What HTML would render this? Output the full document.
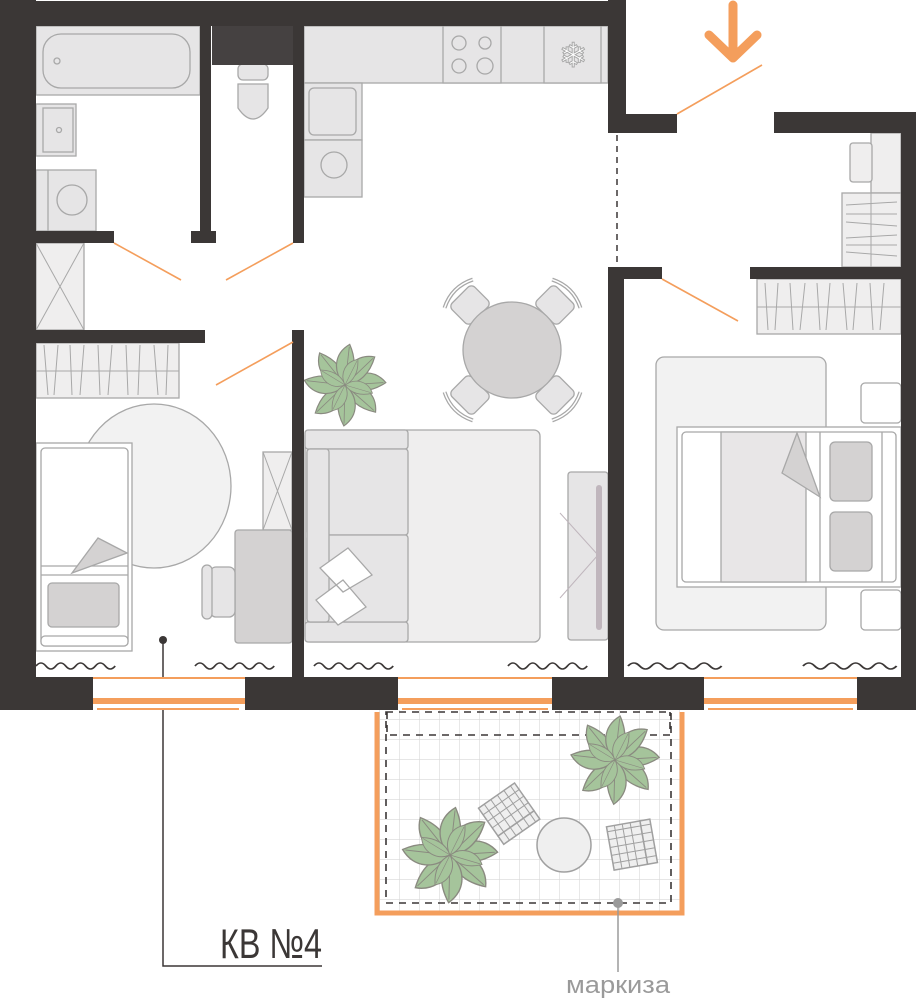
<!DOCTYPE html>
<html><head><meta charset="utf-8"><style>
html,body{margin:0;padding:0;background:#fff;}
svg{display:block}
</style></head><body>
<svg width="916" height="1001" viewBox="0 0 916 1001" xmlns="http://www.w3.org/2000/svg">
<defs>
<pattern id="grid" x="0" y="0" width="20" height="20" patternUnits="userSpaceOnUse">
<rect width="20" height="20" fill="#fff"/>
<path d="M20 0V20M0 20H20" stroke="#d8d8d8" stroke-width="1.2"/>
</pattern>
<g id="leaf"><path d="M0 0 C8 -12 24 -14 34 -2 C22 6 10 7 0 0Z" fill="#a5c49b" stroke="#8a8a80" stroke-width="1"/><path d="M0 0 L32 -2" stroke="#8a8a80" stroke-width=".7"/></g>
<g id="plant">
<use href="#leaf" transform="rotate(0)"/><use href="#leaf" transform="rotate(45)"/><use href="#leaf" transform="rotate(95)"/><use href="#leaf" transform="rotate(140)"/><use href="#leaf" transform="rotate(190)"/><use href="#leaf" transform="rotate(235)"/><use href="#leaf" transform="rotate(280)"/><use href="#leaf" transform="rotate(320)"/>
<use href="#leaf" transform="rotate(20) scale(.7)"/><use href="#leaf" transform="rotate(120) scale(.7)"/><use href="#leaf" transform="rotate(215) scale(.7)"/><use href="#leaf" transform="rotate(300) scale(.7)"/>
</g>
<g id="wave"><path d="M0 0 q4.5 -6 9 0 t9 0 t9 0 t9 0 t9 0 t9 0 t9 0 t9 0" fill="none" stroke="#3b3736" stroke-width="1.6"/></g>
<g id="chair"><rect x="-16" y="-14" width="32" height="28" rx="5" fill="#e6e5e6" stroke="#a8a8a8" stroke-width="1.3"/><path d="M-20 -16 Q0 -26 20 -16" fill="none" stroke="#a8a8a8" stroke-width="4"/><path d="M-20 -16 Q0 -26 20 -16" fill="none" stroke="#fff" stroke-width="1.5"/></g>
<g id="bchair"><rect x="-22" y="-20" width="44" height="34" fill="#efefef" stroke="#a0a0a0" stroke-width="1.5"/><path d="M-15 -20V14M-7 -20V14M1 -20V14M9 -20V14M17 -20V14M-22 -12H22M-22 -4H22M-22 4H22" stroke="#a0a0a0" stroke-width="1"/><rect x="-22" y="14" width="44" height="10" fill="#efefef" stroke="#a0a0a0" stroke-width="1.5"/><path d="M-15 14V24M-7 14V24M1 14V24M9 14V24M17 14V24" stroke="#a0a0a0" stroke-width="1"/></g>
</defs>

<!-- balcony -->
<rect x="377" y="710" width="305" height="203" fill="url(#grid)"/>
<path d="M377 712V913H682V712" fill="none" stroke="#f49e5c" stroke-width="5"/>
<rect x="386" y="712" width="285" height="191" fill="none" stroke="#3b3736" stroke-width="1.6" stroke-dasharray="7 6"/>
<path d="M387 712V735H670V712" fill="none" stroke="#3b3736" stroke-width="1.6" stroke-dasharray="7 6"/>
<use href="#plant" transform="translate(615,760) scale(1.3)"/>
<use href="#plant" transform="translate(450,855) scale(1.4)"/>
<use href="#bchair" transform="translate(508,812) rotate(-35)"/>
<use href="#bchair" transform="translate(630,845) rotate(-100)"/>
<circle cx="564" cy="845" r="27" fill="#efefef" stroke="#a0a0a0" stroke-width="1.5"/>
<circle cx="618" cy="903" r="5" fill="#9a9a9a"/>
<path d="M618 903V972" stroke="#9a9a9a" stroke-width="1.5"/>

<!-- bathroom -->
<g fill="#e6e5e6" stroke="#a8a8a8" stroke-width="1.3">
<rect x="36" y="26" width="164" height="69"/>
<rect x="43" y="34" width="147" height="54" rx="18"/>
<circle cx="57" cy="61" r="3"/>
<rect x="36" y="104" width="40" height="52"/>
<rect x="43" y="108" width="30" height="44"/>
<circle cx="59" cy="130" r="2.5"/>
<rect x="36" y="170" width="60" height="61"/>
<path d="M48 170V231"/>
<circle cx="72" cy="200" r="15"/>
<rect x="238" y="64" width="30" height="16" rx="5"/>
<path d="M238 84H268V108Q253 130 238 108Z"/>
<rect x="36" y="243" width="48" height="87" fill="#efeeee"/>
<path d="M36 243L84 330M84 243L36 330" fill="none" stroke-width="1"/>
</g>
<rect x="212" y="26" width="81" height="39" fill="#454141"/>

<!-- kitchen -->
<g fill="#e6e5e6" stroke="#a8a8a8" stroke-width="1.3">
<rect x="304" y="26" width="304" height="57"/>
<rect x="443" y="26" width="58" height="57"/>
<rect x="544" y="26" width="57" height="57"/>
<circle cx="459" cy="43" r="7"/><circle cx="485" cy="43" r="6"/><circle cx="459" cy="66" r="7"/><circle cx="485" cy="66" r="8"/>
<rect x="304" y="83" width="58" height="57"/>
<rect x="309" y="88" width="47" height="47" rx="5"/>
<rect x="304" y="140" width="58" height="57"/>
<circle cx="334" cy="165" r="13"/>
</g>
<text x="573" y="67" font-size="34" fill="#fff" stroke="#a8a8a8" stroke-width="1" text-anchor="middle" font-family="DejaVu Sans, sans-serif">❄</text>

<!-- dining -->
<use href="#chair" transform="translate(470,305) rotate(-45)"/>
<use href="#chair" transform="translate(555,305) rotate(45)"/>
<use href="#chair" transform="translate(470,395) rotate(-135)"/>
<use href="#chair" transform="translate(555,395) rotate(135)"/>
<ellipse cx="512" cy="350" rx="49" ry="48" fill="#d4d2d2" stroke="#a8a8a8" stroke-width="1.3"/>

<!-- sofa -->
<g fill="#e6e5e6" stroke="#a8a8a8" stroke-width="1.3">
<rect x="305" y="430" width="235" height="212" rx="6" fill="#efeeee"/>
<rect x="305" y="430" width="103" height="19" rx="3"/>
<rect x="305" y="622" width="103" height="20" rx="3"/>
<rect x="307" y="449" width="101" height="86" rx="3"/>
<rect x="307" y="535" width="101" height="87" rx="3"/>
<rect x="307" y="449" width="22" height="173" rx="3"/>
<rect x="568" y="472" width="40" height="168" rx="3"/>
</g>
<path d="M320 568L348 548L372 575L343 592Z M316 600L343 580L366 607L338 625Z" fill="#fff" stroke="#a8a8a8" stroke-width="1.3"/>
<rect x="596" y="485" width="6" height="145" rx="3" fill="#c0b6bd"/>
<path d="M560 513L598 555L560 598" fill="none" stroke="#c0b6bd" stroke-width="1"/>
<use href="#plant" transform="translate(345,385) scale(1.2)"/>

<!-- child room -->
<g stroke="#a8a8a8" stroke-width="1.3">
<rect x="36" y="343" width="143" height="55" fill="#efeeee"/>
<path d="M36 371H179M44 345L48 395M58 345L54 395M70 345L72 395M84 345L80 395M98 345L100 395M112 345L108 395M126 345L128 395M140 345L138 395M154 345L158 395M168 345L166 395" fill="none" stroke-width="1"/>
<ellipse cx="154" cy="486" rx="77" ry="82" fill="#f2f2f2"/>
<rect x="36" y="443" width="96" height="208" fill="#fff"/>
<rect x="41" y="448" width="87" height="198" rx="4" fill="#fff"/>
<path d="M41 566H128M41 575H128" fill="none"/>
<path d="M72 573L98 538L127 553Z" fill="#d4d2d2"/>
<rect x="48" y="583" width="71" height="44" rx="4" fill="#d4d2d2"/>
<rect x="41" y="636" width="87" height="10" rx="4" fill="#fff"/>
<rect x="263" y="452" width="29" height="78" fill="#efeeee"/>
<path d="M263 452L292 530M292 452L263 530" fill="none" stroke-width="1"/>
<rect x="235" y="530" width="57" height="113" rx="3" fill="#d4d2d2"/>
<rect x="210" y="567" width="25" height="50" rx="6" fill="#e6e5e6"/>
<rect x="202" y="565" width="10" height="54" rx="5" fill="#e6e5e6"/>
</g>
<circle cx="163" cy="640" r="4" fill="#3b3736"/>
<path d="M163 640V966H322" fill="none" stroke="#3b3736" stroke-width="1.5"/>

<!-- bedroom -->
<g stroke="#a8a8a8" stroke-width="1.3">
<rect x="871" y="133" width="30" height="60" fill="#efeeee"/>
<rect x="850" y="143" width="22" height="39" rx="3" fill="#efeeee"/>
<rect x="842" y="193" width="59" height="74" fill="#efeeee"/>
<path d="M871 193V267M846 205L897 202M846 214L897 214M846 222L897 226M846 238L897 235M846 245L897 245M846 252L897 256" fill="none" stroke-width="1"/>
<rect x="757" y="279" width="144" height="55" fill="#efeeee"/>
<path d="M757 307H901M765 283L768 330M778 283L775 330M790 283L793 330M805 283L800 330M817 283L820 330M830 283L826 330M843 283L847 330M857 283L853 330M870 283L873 330M884 283L880 330" fill="none" stroke-width="1"/>
<rect x="656" y="357" width="170" height="273" rx="8" fill="#f2f2f2"/>
<rect x="861" y="383" width="40" height="40" rx="4" fill="#fff"/>
<rect x="861" y="590" width="40" height="40" rx="4" fill="#fff"/>
<rect x="677" y="427" width="224" height="160" fill="#fff"/>
<rect x="682" y="432" width="214" height="150" rx="4" fill="#fff"/>
<rect x="721" y="432" width="85" height="150" fill="#e8e6e7"/>
<path d="M820 432V582M882 432V582" fill="none"/>
<path d="M797 433L782 473L820 497Z" fill="#d4d2d2"/>
<rect x="830" y="442" width="42" height="59" rx="5" fill="#d4d2d2"/>
<rect x="830" y="512" width="42" height="59" rx="5" fill="#d4d2d2"/>
</g>

<!-- waves -->
<use href="#wave" transform="translate(36,666) scale(1.1,1)"/>
<use href="#wave" transform="translate(195,666) scale(1.1,1)"/>
<use href="#wave" transform="translate(314,666) scale(1.1,1)"/>
<use href="#wave" transform="translate(508,666) scale(1.1,1)"/>
<use href="#wave" transform="translate(628,666) scale(1.3,1)"/>
<use href="#wave" transform="translate(803,666) scale(1.3,1)"/>

<!-- walls -->
<g fill="#3b3736">
<rect x="0" y="0" width="36" height="710"/>
<rect x="36" y="1" width="590" height="25"/>
<rect x="608" y="0" width="18" height="133"/>
<rect x="608" y="114" width="69" height="19"/>
<rect x="774" y="112" width="142" height="21"/>
<rect x="901" y="112" width="15" height="598"/>
<rect x="750" y="267" width="166" height="12"/>
<rect x="608" y="267" width="54" height="12"/>
<rect x="608" y="267" width="16" height="420"/>
<rect x="200" y="26" width="11" height="217"/>
<rect x="191" y="231" width="25" height="12"/>
<rect x="293" y="26" width="11" height="217"/>
<rect x="36" y="231" width="78" height="12"/>
<rect x="36" y="330" width="169" height="13"/>
<rect x="292" y="330" width="12" height="357"/>
<rect x="0" y="677" width="916" height="33"/>
</g>
<!-- windows -->
<g>
<rect x="93" y="677" width="152" height="33" fill="#fff"/>
<rect x="93" y="677" width="152" height="2" fill="#f49e5c"/>
<rect x="93" y="698" width="152" height="6" fill="#f49e5c"/>
<rect x="97" y="708" width="142" height="2" fill="#f49e5c"/>
<rect x="398" y="677" width="154" height="33" fill="#fff"/>
<rect x="398" y="677" width="154" height="2" fill="#f49e5c"/>
<rect x="398" y="698" width="154" height="6" fill="#f49e5c"/>
<rect x="402" y="708" width="146" height="2" fill="#f49e5c"/>
<rect x="704" y="677" width="153" height="33" fill="#fff"/>
<rect x="704" y="677" width="153" height="2" fill="#f49e5c"/>
<rect x="704" y="698" width="153" height="6" fill="#f49e5c"/>
<rect x="708" y="708" width="145" height="2" fill="#f49e5c"/>
</g>
<path d="M617 135V265" stroke="#3b3736" stroke-width="1.5" stroke-dasharray="6 5"/>

<!-- door swings -->
<g stroke="#f49e5c" stroke-width="1.6">
<path d="M114 243L181 280"/><path d="M293 243L226 280"/><path d="M293 342L216 385"/>
<path d="M677 114L762 65"/><path d="M662 279L738 321"/>
</g>
<path d="M733 5V58M709 35L733 58L757 35" fill="none" stroke="#f49e5c" stroke-width="9" stroke-linecap="round" stroke-linejoin="round"/>

<text x="220" y="958" font-family="Liberation Sans Narrow, Liberation Sans, sans-serif" font-size="42" fill="#3b3736" textLength="102" lengthAdjust="spacingAndGlyphs">КВ №4</text>
<text x="566" y="993" font-family="Liberation Sans, sans-serif" font-size="24" fill="#9a9a9a" textLength="104" lengthAdjust="spacingAndGlyphs">маркиза</text>
</svg>
</body></html>
